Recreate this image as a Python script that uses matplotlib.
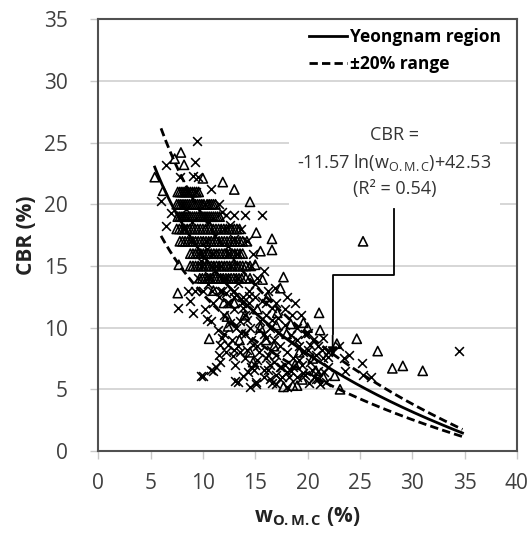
import numpy as np
import matplotlib
matplotlib.use("Agg")
import matplotlib.pyplot as plt

plt.rcParams["font.family"] = ["Open Sans", "DejaVu Sans"]
plt.rcParams["mathtext.fontset"] = "custom"
plt.rcParams["mathtext.rm"] = "Open Sans"
plt.rcParams["mathtext.bf"] = "Open Sans:bold"
plt.rcParams["mathtext.it"] = "Open Sans:italic"

# regression shown on the chart: CBR = -11.57 ln(w) + 42.53
coef_a = -11.57
coef_b = 42.53
band = 0.20

# triangle samples (w_OMC %, CBR %)
tri_w = [7.9, 7.3, 8.2, 5.4, 10.0, 11.9, 13.0, 6.2, 14.5, 15.1, 16.6, 15.5, 16.6, 15.0,
         17.7, 17.4, 7.7, 7.6, 15.7, 21.1, 19.6, 18.4, 17.1, 12.3, 12.4, 10.6, 14.5, 14.8,
         17.7, 18.6, 19.0, 22.6, 23.1, 22.8, 24.7, 26.7, 28.1, 29.1, 31.0, 25.3,
         # row 21
         7.6, 8.0, 8.4, 8.8, 9.2, 9.6, 7.8, 8.2, 8.6, 9.0, 9.4,
         # row 20
         7.5, 7.9, 8.3, 8.7, 9.1, 9.5, 9.9, 10.4, 10.8, 11.2, 7.7, 8.1, 8.5, 8.9, 9.3, 9.7,
         10.1, 10.6, 11.0,
         # row 19
         7.6, 8.0, 8.4, 8.8, 9.2, 9.6, 10.0, 10.4, 10.8, 11.2, 11.6, 7.8, 8.2, 8.6, 9.0, 9.4,
         9.8, 10.2, 10.6, 11.0, 11.4,
         # row 18
         7.5, 8.0, 8.5, 9.0, 9.5, 10.0, 10.5, 11.0, 11.5, 12.0, 12.5, 13.0, 13.5, 7.75, 8.25,
         8.75, 9.25, 9.75, 10.25, 10.75, 11.25, 11.75, 12.25, 12.75, 13.25,
         # row 17
         7.8, 8.3, 8.8, 9.3, 9.8, 10.3, 10.8, 11.3, 11.8, 12.3, 12.8, 13.3, 13.8, 14.2, 8.05,
         8.55, 9.05, 9.55, 10.05, 10.55, 11.05, 11.55, 12.05, 12.55, 13.05, 13.55,
         # row 16
         8.8, 9.3, 9.8, 10.3, 10.8, 11.3, 11.8, 12.3, 12.8, 13.3, 13.8, 9.05, 9.55, 10.05,
         10.55, 11.05, 11.55, 12.05, 12.55, 13.05, 13.55,
         # row 15
         8.8, 9.3, 9.8, 10.3, 10.8, 11.3, 11.8, 12.3, 12.8, 13.3, 13.8, 14.5, 9.05, 9.55,
         10.05, 10.55, 11.05, 11.55, 12.05, 12.55, 13.05, 13.55, 14.1,
         # row 14
         9.7, 10.2, 10.7, 11.2, 11.7, 12.2, 12.7, 13.2, 13.7, 14.5, 9.95, 10.45, 10.95, 11.45,
         11.95, 12.45, 12.95, 13.45, 14.1,
         # lower cloud
         16.0, 18.0, 17.0, 19.2, 20.5, 21.2, 20.0, 13.5, 15.2, 16.2, 21.5, 11.0, 12.0,
         13.0, 14.0, 15.5, 16.8, 18.8, 20.8, 19.5]
tri_cbr = [24.2, 23.7, 23.2, 22.2, 22.1, 21.8, 21.2, 21.1, 20.2, 17.7, 17.2, 16.2, 16.3, 15.1,
           14.1, 13.2, 15.1, 12.8, 13.9, 11.2, 10.4, 10.3, 11.2, 10.9, 10.1, 9.1, 8.0, 7.2,
           5.2, 5.3, 5.3, 6.1, 5.0, 8.7, 9.1, 8.1, 6.7, 6.9, 6.5, 17.0,
           21, 21, 21, 21, 21, 21, 21, 21, 21, 21, 21,
           20, 20, 20, 20, 20, 20, 20, 20, 20, 20, 20, 20, 20, 20, 20, 20,
           20, 20, 20,
           19, 19, 19, 19, 19, 19, 19, 19, 19, 19, 19, 19, 19, 19, 19, 19,
           19, 19, 19, 19, 19,
           18, 18, 18, 18, 18, 18, 18, 18, 18, 18, 18, 18, 18, 18, 18,
           18, 18, 18, 18, 18, 18, 18, 18, 18, 18,
           17, 17, 17, 17, 17, 17, 17, 17, 17, 17, 17, 17, 17, 17, 17,
           17, 17, 17, 17, 17, 17, 17, 17, 17, 17, 17,
           16, 16, 16, 16, 16, 16, 16, 16, 16, 16, 16, 16, 16, 16,
           16, 16, 16, 16, 16, 16, 16,
           15, 15, 15, 15, 15, 15, 15, 15, 15, 15, 15, 15, 15, 15,
           15, 15, 15, 15, 15, 15, 15, 15, 15,
           14, 14, 14, 14, 14, 14, 14, 14, 14, 14, 14, 14, 14, 14,
           14, 14, 14, 14, 14,
           9.0, 9.5, 10.2, 8.0, 7.5, 9.8, 10.0, 9.0, 11.5, 12.5, 6.0, 13.0, 12.0,
           12.0, 11.0, 10.0, 8.5, 7.0, 6.5, 5.8]

# cross samples (w_OMC %, CBR %)
crs_w = [9.4, 6.5, 9.2, 7.8, 9.1, 9.5, 10.8, 6.0, 7.0, 6.5, 12.2, 13.0, 14.0, 15.6,
         8.6, 9.3, 10.2, 11.5, 12.0, 12.6, 13.6, 14.2, 14.8, 13.3, 14.6, 15.2, 15.8, 16.9,
         16.2, 15.0, 16.0, 17.0, 17.8, 18.5, 18.0, 19.0, 19.8, 20.5, 21.5, 21.0, 22.0, 23.5,
         9.5, 10.0, 10.5, 11.0, 11.5, 12.0, 12.5, 13.0, 13.5, 14.0, 14.5, 10.2, 10.8, 11.4,
         12.0, 12.8, 13.4, 14.0, 14.6, 15.2, 15.8, 16.4, 16.8, 17.4, 18.0, 18.6, 19.2, 15.5,
         16.0, 13.0, 12.2, 11.8, 13.8, 14.4, 15.0, 9.2, 8.6, 8.8, 9.1, 7.6, 10.4, 11.6,
         11.5, 11.6, 11.3, 10.8, 9.8, 10.0, 11.0,
         12.2, 12.9, 13.1, 13.8, 14.3, 13.4, 13.1, 14.5, 15.1, 15.1, 15.8, 16.2, 16.6, 17.0,
         17.4, 17.8, 18.0, 18.4, 19.0, 19.5, 20.1, 20.2, 20.6, 21.2, 21.0, 16.0, 15.0, 14.0,
         13.5, 17.0, 18.5, 16.5, 22.0, 20.0, 21.5, 23.0, 24.0, 25.2, 26.1, 25.3, 34.5, 23.6,
         8.2, 8.9, 9.6, 10.3, 11.0, 11.7, 12.4, 9.9, 10.6, 11.3, 12.0, 12.7, 13.4, 10.9,
         11.6, 12.3, 13.0, 13.7, 14.4, 17.5, 18.2, 19.6, 20.8, 21.8, 16.4, 14.9,
         14.2, 14.8, 15.4, 16.0, 16.6, 17.2, 17.8, 18.4, 19.0, 19.6, 20.2, 20.8, 21.4, 22.0,
         16.2, 16.8, 17.4, 18.0, 18.6, 19.2, 19.8, 20.4, 21.0, 21.6, 14.6, 15.2, 15.8, 16.4,
         17.0, 17.6, 13.6, 14.2, 14.8, 15.4, 12.6, 13.2, 13.8, 14.4, 15.6, 16.6, 17.2, 12.4,
         13.0, 11.8, 12.2, 13.4, 11.2, 10.6, 9.8, 10.4, 11.2, 12.4, 13.0, 9.0, 8.4, 10.6,
         11.8, 18.8, 19.4, 20.0]
crs_cbr = [25.1, 23.2, 23.4, 22.2, 22.3, 22.2, 21.2, 20.3, 19.3, 18.2, 19.1, 19.1, 19.1, 19.1,
           21.0, 21.0, 20.0, 20.0, 18.0, 18.3, 18.0, 17.0, 16.0, 16.0, 15.0, 14.0, 14.6, 13.2,
           13.0, 12.5, 12.0, 12.0, 11.5, 11.0, 12.5, 10.0, 9.5, 9.0, 9.2, 8.5, 8.0, 7.5,
           14.0, 13.0, 13.5, 12.0, 12.5, 11.0, 12.0, 11.5, 10.5, 11.0, 10.0, 11.5, 10.5, 9.8,
           9.5, 9.0, 8.5, 9.5, 9.0, 8.5, 9.5, 10.0, 9.0, 8.5, 8.0, 7.5, 8.5, 10.5,
           11.0, 13.0, 14.0, 13.0, 12.5, 12.0, 13.5, 13.0, 13.0, 12.2, 11.2, 11.6, 10.7, 8.6,
           7.8, 7.2, 6.8, 6.6, 6.1, 6.1, 6.5,
           8.0, 7.7, 7.0, 6.1, 6.4, 5.6, 5.7, 5.2, 5.4, 5.6, 6.0, 6.6, 5.5, 6.2,
           5.8, 7.0, 5.2, 6.5, 6.0, 7.0, 5.5, 7.2, 6.0, 5.4, 6.5, 7.5, 7.0, 7.5,
           8.0, 7.8, 8.8, 8.2, 6.8, 8.2, 7.5, 8.5, 7.8, 7.1, 6.0, 6.2, 8.1, 6.5,
           18.0, 17.0, 16.0, 17.0, 16.0, 15.0, 16.0, 15.0, 14.0, 15.0, 14.0, 15.0, 14.0, 13.0,
           13.0, 12.0, 12.5, 12.0, 13.0, 6.8, 6.0, 6.3, 5.8, 5.6, 7.0, 6.6,
           10.6, 11.4, 9.8, 9.2, 10.6, 9.6, 10.2, 9.4, 9.0, 8.0, 8.6, 7.8, 8.2, 7.6,
           7.8, 7.2, 6.8, 6.4, 6.8, 7.4, 6.2, 6.6, 5.8, 6.4, 6.8, 7.4, 6.6, 5.8,
           5.4, 6.0, 9.6, 8.2, 8.6, 8.0, 10.4, 10.0, 11.6, 12.6, 12.2, 11.6, 10.8, 8.6,
           8.2, 9.2, 12.8, 13.6, 14.6, 14.2, 15.4, 16.4, 17.4, 16.6, 17.2, 18.6, 19.6, 18.6,
           19.4, 12.0, 11.0, 9.6]

fig = plt.figure(figsize=(5.28, 5.35), dpi=100)
ax = fig.add_axes([0.186, 0.157, 0.793, 0.807])

ax.scatter(tri_w, tri_cbr, marker="^", s=44, facecolors="none", edgecolors="black",
           linewidths=1.15, zorder=3)
ax.scatter(crs_w, crs_cbr, marker="x", s=40, c="black", linewidths=1.15, zorder=3)

w = np.linspace(5.4, 34.8, 200)
cbr = coef_a * np.log(w) + coef_b
ax.plot(w, cbr, color="black", lw=2.0, zorder=4, label="Yeongnam region")
wd = np.linspace(6.0, 34.8, 200)
cbr_d = coef_a * np.log(wd) + coef_b
ax.plot(wd, cbr_d * (1 + band), color="black", lw=2.0, ls=(0, (3, 1.5)), zorder=4,
        label="\u00b120% range")
ax.plot(wd, cbr_d * (1 - band), color="black", lw=2.0, ls=(0, (3, 1.5)), zorder=4)

# equation callout
ax.text(28.3, 23.4, "CBR =\n-11.57 ln(w$_{\\mathrm{O.M.C}}$)+42.53\n(R\u00b2 = 0.54)",
        ha="center", va="center", fontsize=13, color="#333333", linespacing=1.5,
        bbox=dict(facecolor="white", edgecolor="none", pad=6), zorder=5)
ax.plot([28.3, 28.3, 22.4, 22.4], [19.6, 14.3, 14.3, 9.5], color="black", lw=1.3, zorder=5)
ax.annotate("", xy=(22.4, 7.4), xytext=(22.4, 9.6),
            arrowprops=dict(arrowstyle="-|>", color="black", lw=1.3, mutation_scale=14),
            zorder=5)

ax.set_xlim(0, 40)
ax.set_ylim(0, 35)
ax.set_xticks(range(0, 41, 5))
ax.set_yticks(range(0, 36, 5))
ax.yaxis.grid(True, color="#d0d0d0", lw=1.2)
ax.set_axisbelow(True)
for sp in ax.spines.values():
    sp.set_color("#505050")
    sp.set_linewidth(1.5)
ax.tick_params(axis="both", labelsize=15, colors="#404040", length=6, width=1,
               direction="out")
ax.tick_params(axis="both", color="#c8c8c8")
ax.tick_params(axis="y", pad=16)
ax.tick_params(axis="x", pad=10)

ax.set_ylabel("CBR (%)", fontsize=15, fontweight="bold", color="#222222", labelpad=5)
ax.set_xlabel("w$_{\\mathbf{O.M.C}}$ (%)", fontsize=15, fontweight="bold", color="#222222",
              labelpad=8)

leg = ax.legend(loc="upper right", bbox_to_anchor=(1.0, 1.015), frameon=False,
                prop={"weight": "bold", "size": 12.5}, handlelength=2.2, handletextpad=0.2,
                labelspacing=0.5)

fig.savefig("out.png", dpi=100)
